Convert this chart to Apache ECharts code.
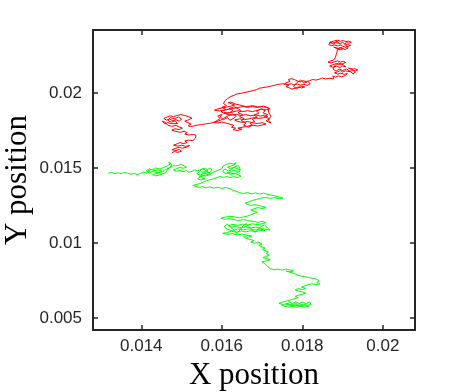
<!DOCTYPE html>
<html>
<head>
<meta charset="utf-8">
<script src="https://cdn.jsdelivr.net/npm/echarts@6/dist/echarts.min.js"></script>
<style>
  html, body { margin: 0; padding: 0; background: #fff; }
  #chart { width: 458px; height: 392px; }
</style>
</head>
<body>
<div id="chart"></div>
<script>
// tick values
const xTicks = [0.014, 0.016, 0.018, 0.02];
const yTicks = [0.005, 0.01, 0.015, 0.02];

// red trajectory (x, y)
const redPath = [
  [0.01890,0.02330],[0.01882,0.02338],[0.01875,0.02332],[0.01868,0.02336],[0.01872,0.02344],[0.01880,0.02348],
  [0.01888,0.02352],[0.01895,0.02345],[0.01902,0.02350],[0.01908,0.02342],[0.01915,0.02346],[0.01922,0.02338],
  [0.01916,0.02332],[0.01910,0.02336],[0.01905,0.02328],[0.01912,0.02322],[0.01920,0.02318],[0.01924,0.02310],
  [0.01915,0.02312],[0.01908,0.02305],[0.01900,0.02312],[0.01895,0.02320],[0.01888,0.02314],[0.01880,0.02320],
  [0.01872,0.02316],[0.01866,0.02322],[0.01870,0.02342],[0.01878,0.02326],[0.01886,0.02346],[0.01894,0.02326],
  [0.01900,0.02340],[0.01908,0.02318],[0.01914,0.02300],[0.01906,0.02290],[0.01896,0.02300],[0.01886,0.02296],
  [0.01878,0.02306],[0.01874,0.02308],[0.01882,0.02302],[0.01890,0.02298],[0.01896,0.02304],
  [0.01902,0.02296],[0.01896,0.02288],[0.01888,0.02292],[0.01884,0.02284],[0.01892,0.02280],
  [0.01886,0.02272],[0.01890,0.02262],[0.01884,0.02254],[0.01888,0.02244],[0.01882,0.02236],[0.01886,0.02226],
  [0.01878,0.02220],[0.01870,0.02214],[0.01864,0.02206],[0.01872,0.02200],[0.01880,0.02208],[0.01888,0.02214],
  [0.01895,0.02206],[0.01902,0.02212],[0.01908,0.02204],[0.01900,0.02196],[0.01892,0.02190],[0.01884,0.02196],
  [0.01876,0.02188],[0.01868,0.02180],[0.01876,0.02172],[0.01885,0.02178],[0.01894,0.02170],[0.01900,0.02180],
  [0.01908,0.02174],[0.01902,0.02188],[0.01890,0.02200],[0.01882,0.02186],[0.01876,0.02160],[0.01884,0.02146],
  [0.01892,0.02160],[0.01900,0.02150],[0.01910,0.02160],[0.01918,0.02146],[0.01926,0.02128],[0.01932,0.02140],
  [0.01924,0.02160],[0.01915,0.02166],[0.01922,0.02158],[0.01930,0.02162],[0.01938,0.02154],[0.01932,0.02146],
  [0.01924,0.02150],[0.01916,0.02142],[0.01908,0.02148],[0.01900,0.02140],[0.01895,0.02150],[0.01888,0.02142],
  [0.01880,0.02134],[0.01888,0.02126],[0.01896,0.02132],[0.01904,0.02124],[0.01912,0.02130],[0.01906,0.02116],
  [0.01898,0.02108],[0.01890,0.02114],[0.01882,0.02106],[0.01876,0.02114],[0.01872,0.02102],[0.01878,0.02094],
  [0.01868,0.02098],[0.01858,0.02094],[0.01850,0.02100],[0.01842,0.02092],[0.01834,0.02086],[0.01826,0.02090],
  [0.01818,0.02082],[0.01810,0.02076],[0.01802,0.02082],[0.01795,0.02074],[0.01788,0.02080],[0.01780,0.02090],
  [0.01772,0.02096],[0.01765,0.02088],[0.01770,0.02078],[0.01762,0.02070],[0.01756,0.02062],[0.01764,0.02056],
  [0.01772,0.02062],[0.01780,0.02054],[0.01788,0.02060],[0.01796,0.02052],[0.01804,0.02058],[0.01812,0.02050],
  [0.01820,0.02062],[0.01814,0.02076],[0.01804,0.02066],[0.01796,0.02086],[0.01786,0.02068],[0.01778,0.02044],
  [0.01786,0.02028],[0.01796,0.02046],[0.01806,0.02040],
  [0.01798,0.02034],[0.01790,0.02040],[0.01782,0.02032],[0.01774,0.02026],[0.01768,0.02034],
  [0.01760,0.02042],[0.01766,0.02050],[0.01758,0.02056],[0.01752,0.02062],
  [0.01742,0.02058],[0.01732,0.02052],[0.01722,0.02046],[0.01712,0.02040],[0.01702,0.02036],[0.01694,0.02032],
  [0.01686,0.02022],[0.01678,0.02016],[0.01668,0.02010],[0.01658,0.02004],[0.01648,0.01998],[0.01638,0.01994],
  [0.01630,0.01984],[0.01622,0.01976],[0.01614,0.01962],[0.01608,0.01948],
  [0.01604,0.01930],[0.01612,0.01915],[0.01600,0.01905],[0.01610,0.01890],[0.01598,0.01875],[0.01608,0.01862],
  [0.01620,0.01870],[0.01628,0.01884],[0.01618,0.01896],[0.01630,0.01908],[0.01640,0.01896],[0.01648,0.01882],
  [0.01640,0.01868],[0.01652,0.01856],[0.01644,0.01842],[0.01656,0.01830],[0.01648,0.01816],[0.01660,0.01800],
  [0.01654,0.01786],[0.01666,0.01772],[0.01676,0.01784],[0.01670,0.01798],[0.01682,0.01810],[0.01676,0.01824],
  [0.01688,0.01838],[0.01680,0.01852],[0.01692,0.01866],[0.01686,0.01880],[0.01698,0.01894],[0.01708,0.01882],
  [0.01702,0.01868],[0.01714,0.01856],[0.01706,0.01842],[0.01718,0.01828],[0.01710,0.01814],[0.01722,0.01800],
  [0.01716,0.01820],[0.01722,0.01846],[0.01716,0.01872],[0.01716,0.01900],[0.01704,0.01912],[0.01690,0.01906],
  [0.01676,0.01916],[0.01662,0.01908],[0.01648,0.01918],[0.01634,0.01926],[0.01622,0.01940],
  [0.01616,0.01936],[0.01624,0.01928],[0.01632,0.01920],[0.01622,0.01912],[0.01612,0.01906],[0.01600,0.01900],
  [0.01590,0.01894],[0.01582,0.01886],[0.01594,0.01880],[0.01606,0.01886],[0.01618,0.01892],[0.01630,0.01898],
  [0.01642,0.01904],[0.01654,0.01910],[0.01664,0.01904],[0.01676,0.01910],[0.01688,0.01904],[0.01698,0.01910],
  [0.01710,0.01904],[0.01720,0.01896],[0.01710,0.01888],[0.01698,0.01892],[0.01688,0.01884],[0.01676,0.01876],
  [0.01664,0.01882],[0.01652,0.01876],[0.01640,0.01882],[0.01628,0.01874],[0.01618,0.01866],[0.01606,0.01870],
  [0.01612,0.01858],[0.01624,0.01852],[0.01636,0.01858],[0.01648,0.01850],[0.01660,0.01856],[0.01672,0.01848],
  [0.01684,0.01854],[0.01696,0.01846],[0.01706,0.01852],[0.01714,0.01844],[0.01704,0.01836],[0.01692,0.01830],
  [0.01680,0.01836],[0.01668,0.01828],[0.01656,0.01822],[0.01644,0.01828],[0.01632,0.01820],[0.01640,0.01810],
  [0.01652,0.01804],[0.01664,0.01810],[0.01676,0.01802],[0.01688,0.01796],[0.01700,0.01802],[0.01710,0.01794],
  [0.01700,0.01786],[0.01688,0.01780],[0.01676,0.01786],[0.01664,0.01778],[0.01652,0.01772],[0.01640,0.01766],
  [0.01650,0.01758],[0.01638,0.01750],[0.01628,0.01756],[0.01634,0.01766],[0.01624,0.01772],[0.01630,0.01784],
  [0.01620,0.01792],[0.01610,0.01800],[0.01600,0.01806],[0.01590,0.01800],[0.01580,0.01804],
  [0.01588,0.01816],[0.01596,0.01830],[0.01590,0.01846],[0.01600,0.01858],[0.01596,0.01840],[0.01604,0.01822],
  [0.01614,0.01836],[0.01620,0.01818],[0.01630,0.01832],[0.01636,0.01846],[0.01626,0.01860],[0.01616,0.01848],
  [0.01606,0.01834],[0.01598,0.01820],[0.01588,0.01810],[0.01580,0.01804],
  [0.01570,0.01798],[0.01560,0.01794],[0.01550,0.01790],[0.01540,0.01786],[0.01530,0.01780],[0.01522,0.01776],
  [0.01516,0.01782],[0.01524,0.01792],[0.01516,0.01802],[0.01508,0.01812],[0.01518,0.01822],[0.01526,0.01832],
  [0.01518,0.01842],[0.01508,0.01850],[0.01498,0.01856],[0.01488,0.01850],[0.01480,0.01842],[0.01472,0.01848],
  [0.01464,0.01840],[0.01456,0.01830],[0.01462,0.01820],[0.01470,0.01826],[0.01478,0.01816],[0.01486,0.01822],
  [0.01494,0.01812],[0.01500,0.01826],[0.01492,0.01840],[0.01482,0.01828],[0.01472,0.01836],[0.01466,0.01818],
  [0.01474,0.01806],[0.01484,0.01814],[0.01490,0.01796],
  [0.01486,0.01802],[0.01476,0.01796],[0.01466,0.01802],[0.01458,0.01794],[0.01452,0.01812],[0.01460,0.01804],
  [0.01466,0.01784],[0.01476,0.01778],[0.01486,0.01784],[0.01494,0.01774],[0.01502,0.01766],[0.01494,0.01756],
  [0.01484,0.01762],[0.01476,0.01752],[0.01486,0.01744],[0.01496,0.01738],[0.01506,0.01744],[0.01514,0.01736],
  [0.01508,0.01726],[0.01518,0.01720],[0.01528,0.01724],[0.01536,0.01718],[0.01540,0.01708],[0.01534,0.01698],
  [0.01538,0.01688],[0.01528,0.01682],[0.01518,0.01686],[0.01508,0.01680],[0.01514,0.01670],[0.01504,0.01662],
  [0.01496,0.01670],[0.01488,0.01660],[0.01480,0.01652],[0.01490,0.01646],[0.01500,0.01652],[0.01510,0.01644],
  [0.01520,0.01650],[0.01512,0.01638],[0.01502,0.01632],[0.01494,0.01638],[0.01484,0.01630],[0.01476,0.01622],
  [0.01486,0.01616],[0.01494,0.01624],[0.01500,0.01612],[0.01490,0.01604],[0.01482,0.01610],[0.01476,0.01600]
];

// green trajectory (x, y)
const greenPath = [
  [0.01318,0.01466],[0.01326,0.01470],[0.01334,0.01462],[0.01342,0.01468],[0.01350,0.01462],[0.01358,0.01470],
  [0.01366,0.01466],[0.01374,0.01458],[0.01382,0.01464],[0.01390,0.01456],
  [0.01398,0.01464],[0.01406,0.01472],[0.01414,0.01466],[0.01422,0.01476],[0.01416,0.01484],[0.01426,0.01490],
  [0.01434,0.01482],[0.01442,0.01488],[0.01450,0.01480],[0.01444,0.01470],[0.01436,0.01462],[0.01428,0.01456],
  [0.01436,0.01448],[0.01446,0.01454],[0.01454,0.01462],[0.01462,0.01470],[0.01458,0.01482],[0.01466,0.01494],
  [0.01472,0.01508],[0.01476,0.01522],[0.01468,0.01536],[0.01474,0.01530],
  [0.01466,0.01516],[0.01456,0.01504],[0.01446,0.01494],[0.01436,0.01500],[0.01428,0.01488],[0.01420,0.01494],
  [0.01412,0.01482],[0.01420,0.01470],[0.01430,0.01476],[0.01440,0.01468],[0.01452,0.01474],[0.01460,0.01490],
  [0.01470,0.01500],[0.01478,0.01514],
  [0.01482,0.01524],[0.01490,0.01516],[0.01498,0.01524],[0.01506,0.01516],[0.01512,0.01506],[0.01504,0.01498],
  [0.01496,0.01504],[0.01488,0.01496],[0.01480,0.01488],[0.01488,0.01478],[0.01496,0.01484],[0.01504,0.01476],
  [0.01512,0.01482],[0.01518,0.01472],
  [0.01526,0.01478],[0.01532,0.01488],[0.01540,0.01480],[0.01548,0.01490],[0.01556,0.01498],[0.01564,0.01490],
  [0.01572,0.01498],[0.01576,0.01484],[0.01568,0.01468],[0.01560,0.01484],[0.01552,0.01496],[0.01544,0.01476],
  [0.01538,0.01460],[0.01546,0.01452],[0.01556,0.01466],[0.01566,0.01486],
  [0.01558,0.01478],[0.01550,0.01470],[0.01558,0.01462],[0.01566,0.01470],
  [0.01574,0.01462],[0.01568,0.01452],[0.01560,0.01446],[0.01552,0.01452],[0.01544,0.01444],[0.01550,0.01434],
  [0.01558,0.01428],[0.01548,0.01420],[0.01540,0.01428],[0.01546,0.01440],[0.01556,0.01450],[0.01566,0.01458],
  [0.01576,0.01468],
  [0.01584,0.01476],[0.01592,0.01486],[0.01600,0.01494],[0.01596,0.01506],[0.01604,0.01516],[0.01612,0.01524],
  [0.01620,0.01532],[0.01628,0.01526],[0.01636,0.01534],[0.01630,0.01520],[0.01622,0.01512],[0.01614,0.01504],
  [0.01622,0.01496],[0.01630,0.01504],[0.01638,0.01496],[0.01646,0.01488],[0.01650,0.01500],[0.01642,0.01516],
  [0.01632,0.01508],[0.01624,0.01490],[0.01616,0.01480],[0.01608,0.01494],[0.01602,0.01478],[0.01610,0.01462],
  [0.01620,0.01470],[0.01630,0.01460],[0.01640,0.01470],[0.01646,0.01482],
  [0.01638,0.01478],[0.01630,0.01484],
  [0.01622,0.01476],[0.01614,0.01468],[0.01622,0.01458],[0.01632,0.01464],[0.01640,0.01456],[0.01648,0.01446],
  [0.01640,0.01436],[0.01630,0.01442],[0.01620,0.01436],[0.01612,0.01444],[0.01604,0.01436],[0.01596,0.01444],
  [0.01588,0.01436],[0.01580,0.01428],
  [0.01570,0.01422],[0.01562,0.01414],[0.01554,0.01406],[0.01546,0.01396],[0.01536,0.01390],[0.01528,0.01384],
  [0.01536,0.01376],[0.01544,0.01370],
  [0.01552,0.01376],[0.01560,0.01368],[0.01570,0.01374],[0.01580,0.01366],[0.01590,0.01372],[0.01600,0.01364],
  [0.01610,0.01370],[0.01620,0.01362],[0.01628,0.01352],[0.01636,0.01344],[0.01644,0.01336],
  [0.01654,0.01330],[0.01664,0.01336],[0.01674,0.01328],[0.01684,0.01334],[0.01694,0.01326],[0.01704,0.01332],
  [0.01714,0.01324],[0.01724,0.01318],[0.01734,0.01312],[0.01744,0.01306],[0.01752,0.01300],[0.01742,0.01296],
  [0.01732,0.01302],[0.01720,0.01298],[0.01708,0.01304],[0.01696,0.01298],[0.01686,0.01290],[0.01676,0.01284],
  [0.01666,0.01274],[0.01658,0.01266],[0.01664,0.01256],[0.01672,0.01250],[0.01682,0.01256],[0.01692,0.01250],
  [0.01702,0.01244],[0.01710,0.01236],[0.01700,0.01230],[0.01690,0.01236],[0.01680,0.01228],[0.01672,0.01220],
  [0.01680,0.01212],[0.01688,0.01204],[0.01680,0.01196],[0.01672,0.01188],[0.01664,0.01180],[0.01654,0.01174],
  [0.01644,0.01168],
  [0.01632,0.01174],[0.01620,0.01178],[0.01608,0.01172],[0.01598,0.01166],[0.01606,0.01158],[0.01618,0.01162],
  [0.01630,0.01156],[0.01642,0.01150],[0.01654,0.01156],[0.01666,0.01150],[0.01678,0.01144],[0.01690,0.01138],
  [0.01700,0.01144],[0.01710,0.01136],[0.01700,0.01128],[0.01688,0.01122],[0.01676,0.01128],[0.01664,0.01120],
  [0.01652,0.01126],[0.01640,0.01118],[0.01628,0.01124],[0.01616,0.01116],[0.01624,0.01106],[0.01636,0.01110],
  [0.01648,0.01102],[0.01660,0.01108],[0.01672,0.01100],[0.01684,0.01106],[0.01696,0.01098],[0.01708,0.01092],
  [0.01720,0.01086],[0.01714,0.01100],[0.01706,0.01120],[0.01696,0.01108],[0.01690,0.01090],[0.01682,0.01070],
  [0.01676,0.01088],[0.01668,0.01110],[0.01660,0.01130],[0.01652,0.01112],[0.01646,0.01090],[0.01638,0.01066],
  [0.01630,0.01086],[0.01622,0.01104],[0.01614,0.01126],[0.01606,0.01110],[0.01614,0.01090],[0.01626,0.01082],
  [0.01640,0.01094],[0.01654,0.01088],[0.01668,0.01094],[0.01682,0.01086],[0.01696,0.01094],
  [0.01708,0.01080],[0.01696,0.01084],[0.01684,0.01076],[0.01672,0.01082],[0.01660,0.01074],
  [0.01648,0.01080],[0.01636,0.01072],[0.01624,0.01078],[0.01612,0.01070],[0.01602,0.01064],[0.01614,0.01058],
  [0.01626,0.01062],[0.01638,0.01054],[0.01650,0.01060],[0.01662,0.01052],[0.01674,0.01046],[0.01664,0.01038],
  [0.01654,0.01042],[0.01660,0.01030],
  [0.01670,0.01024],[0.01680,0.01016],[0.01672,0.01006],[0.01682,0.00998],[0.01692,0.01004],[0.01700,0.00994],
  [0.01692,0.00984],[0.01700,0.00974],[0.01708,0.00966],[0.01700,0.00958],[0.01708,0.00948],
  [0.01716,0.00940],[0.01710,0.00930],[0.01718,0.00920],[0.01710,0.00910],[0.01702,0.00902],[0.01712,0.00896],
  [0.01720,0.00888],[0.01710,0.00880],[0.01700,0.00874],[0.01706,0.00864],
  [0.01712,0.00850],[0.01714,0.00838],[0.01720,0.00828],[0.01730,0.00822],
  [0.01740,0.00826],[0.01750,0.00820],[0.01760,0.00826],[0.01770,0.00820],[0.01778,0.00814],[0.01770,0.00808],
  [0.01760,0.00812],[0.01772,0.00804],[0.01780,0.00796],[0.01788,0.00788],[0.01796,0.00780],[0.01806,0.00776],
  [0.01816,0.00770],[0.01826,0.00764],[0.01836,0.00758],[0.01842,0.00748],[0.01836,0.00738],[0.01844,0.00728],
  [0.01834,0.00722],[0.01824,0.00728],[0.01814,0.00722],[0.01806,0.00714],
  [0.01798,0.00706],[0.01808,0.00698],[0.01800,0.00690],[0.01790,0.00696],[0.01782,0.00688],[0.01790,0.00680],
  [0.01800,0.00674],[0.01808,0.00666],[0.01800,0.00658],[0.01790,0.00652],[0.01782,0.00644],[0.01790,0.00636],
  [0.01780,0.00628],[0.01770,0.00620],[0.01760,0.00612],[0.01750,0.00606],[0.01742,0.00598],[0.01752,0.00590],
  [0.01762,0.00596],[0.01772,0.00588],[0.01782,0.00594],[0.01792,0.00586],[0.01802,0.00592],[0.01812,0.00584],
  [0.01822,0.00590],[0.01826,0.00600],[0.01818,0.00608],[0.01810,0.00596],[0.01800,0.00606],[0.01792,0.00596],
  [0.01784,0.00608],[0.01776,0.00596],[0.01768,0.00604],[0.01760,0.00592],[0.01770,0.00584],[0.01784,0.00582],
  [0.01798,0.00584],[0.01810,0.00580],[0.01816,0.00578],
  [0.01806,0.00572],[0.01796,0.00578],[0.01786,0.00572],[0.01776,0.00578],
  [0.01766,0.00572],[0.01756,0.00578],[0.01748,0.00586]
];

const chart = echarts.init(document.getElementById('chart'));

const axisColor = '#262626';
const labelFont = { color: axisColor, fontSize: 17, fontFamily: 'Liberation Sans, Arial, sans-serif' };
const titleFont = { color: '#000', fontSize: 31, fontFamily: 'Liberation Serif, Times New Roman, serif' };

function boxAxis(pos, min, max, ticks, showLabels, name) {
  const isX = pos === 'bottom' || pos === 'top';
  return {
    type: 'value',
    position: pos,
    min: min,
    max: max,
    name: name || '',
    nameLocation: 'middle',
    nameGap: isX ? 25 : 60,
    nameMoveOverlap: isX,
    nameTextStyle: titleFont,
    axisLine: { show: true, onZero: false, lineStyle: { color: axisColor, width: 2 } },
    axisTick: { show: true, inside: true, length: 5, customValues: ticks, lineStyle: { color: axisColor, width: 1.5 } },
    axisLabel: Object.assign({ show: showLabels, customValues: ticks, margin: isX ? 8 : 11, formatter: v => String(+v.toFixed(4)) }, labelFont),
    splitLine: { show: false }
  };
}

const option = {
  animation: false,
  backgroundColor: '#fff',
  grid: { left: 93, right: 43, top: 30, bottom: 62, containLabel: false, outerBoundsMode: 'none' },
  xAxis: [
    boxAxis('bottom', 0.0128, 0.0208, xTicks, true, 'X position'),
    boxAxis('top', 0.0128, 0.0208, xTicks, false)
  ],
  yAxis: [
    boxAxis('left', 0.0042, 0.0242, yTicks, true, 'Y position'),
    boxAxis('right', 0.0042, 0.0242, yTicks, false)
  ],
  series: [
    {
      type: 'line', data: redPath, showSymbol: false, symbol: 'none',
      lineStyle: { color: '#ff0000', width: 1 }
    },
    {
      type: 'line', data: greenPath, showSymbol: false, symbol: 'none',
      lineStyle: { color: '#00ff00', width: 1 }
    }
  ]
};

chart.setOption(option);
</script>
</body>
</html>
